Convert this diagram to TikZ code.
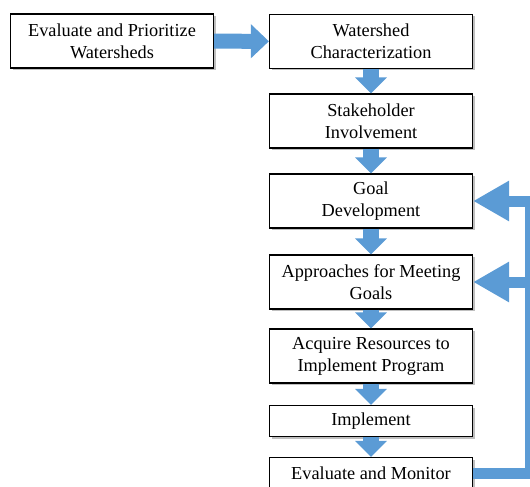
\documentclass[tikz,border=0pt]{standalone}
\usepackage{fontspec}
\setmainfont{Liberation Serif}
\usetikzlibrary{arrows.meta,shadows}
\definecolor{flowblue}{RGB}{91,155,213}

\begin{document}
\begin{tikzpicture}[x=1pt, y=-1pt,
    box/.style={rectangle, draw, line width=1.2pt, fill=white, align=center,
      minimum width=203pt, font=\fontsize{18.3}{22}\selectfont,
      drop shadow={shadow xshift=2pt, shadow yshift=-2pt, fill=black, opacity=0.25}},
    tallbox/.style={box, minimum height=54pt},
    shortbox/.style={box, minimum height=31pt},
    down/.style={draw=flowblue, line width=16pt, -{Triangle[width=31pt, length=16pt]}},
    across/.style={draw=flowblue, line width=15pt, -{Triangle[width=33pt, length=18pt]}},
    back/.style={draw=flowblue, line width=11pt, line join=miter, -{Triangle[width=38pt, length=36pt]}}]
    \useasboundingbox (0,0) rectangle (530,487);
    \clip (0,0) rectangle (530,487);

    % ノードの定義
    \node[tallbox] (prior) at (112, 41) {Evaluate and Prioritize\\Watersheds};
    \node[tallbox] (char) at (371, 41.5) {Watershed\\Characterization};
    \node[tallbox] (stake) at (371, 121) {Stakeholder\\Involvement};
    \node[tallbox] (goal) at (371, 201) {Goal\\Development};
    \node[tallbox] (appr) at (371, 282) {Approaches for Meeting\\Goals};
    \node[tallbox] (acq) at (371, 356) {Acquire Resources to\\Implement Program};
    \node[shortbox] (impl) at (371, 421) {Implement};
    \node[shortbox] (eval) at (371, 473) {Evaluate and Monitor};

    % 折り返しの点
    \coordinate (fbgoal) at (530.5, 201);
    \coordinate (fbappr) at (530.5, 282);

    % 矢印の定義
    \draw[across] (prior) -- (char);
    \draw[down] (char) -- (stake);
    \draw[down] (stake) -- (goal);
    \draw[down] (goal) -- (appr);
    \draw[down] (appr) -- (acq);
    \draw[down] (acq) -- (impl);
    \draw[down] (impl) -- (eval);

    % フィードバックの矢印
    \draw[back] (eval.east) -| (fbgoal) -- (goal.east);
    \draw[back] (fbappr) -- (appr.east);
  \end{tikzpicture}
\end{document}
